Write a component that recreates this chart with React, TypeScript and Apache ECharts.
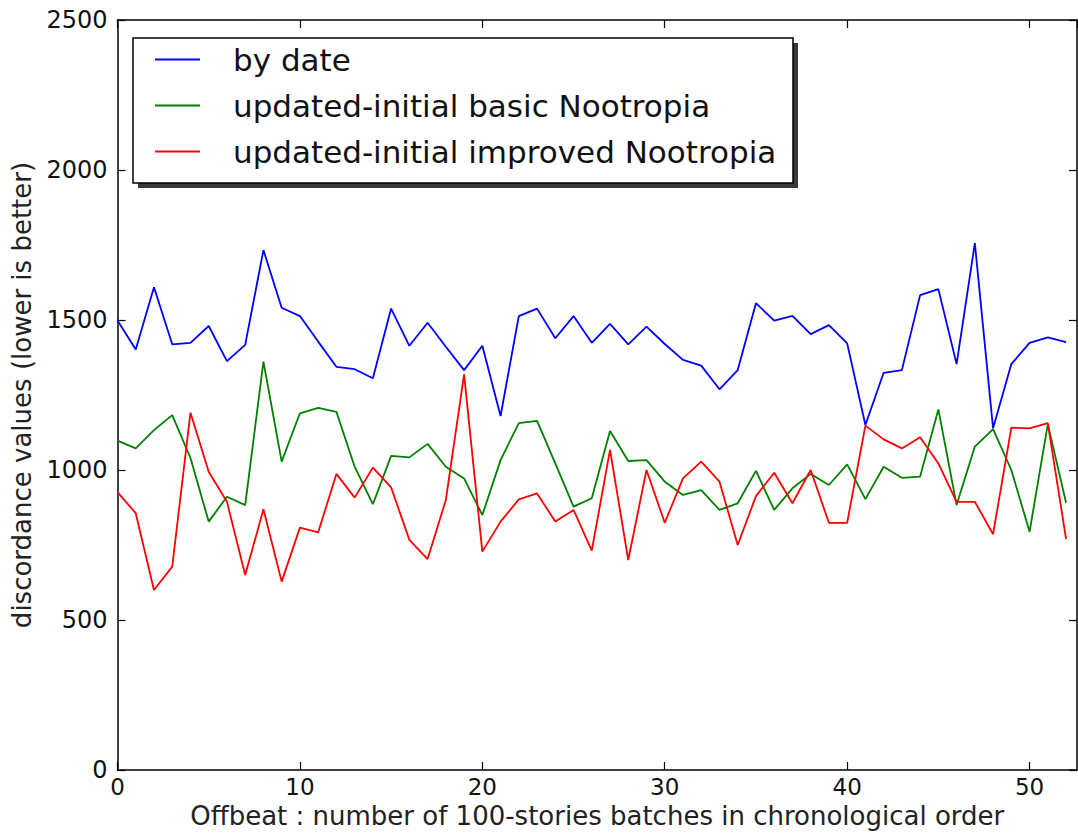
import React, { useEffect, useRef } from "react";
import * as echarts from "echarts";

const seriesNames = [
  "by date",
  "updated-initial basic Nootropia",
  "updated-initial improved Nootropia",
];

const byDate = [
  1498, 1402, 1609, 1419, 1424, 1480, 1363, 1417, 1733, 1541,
  1513, 1428, 1344, 1336, 1306, 1538, 1414, 1491, 1411, 1333,
  1414, 1180, 1513, 1538, 1439, 1513, 1424, 1487, 1419, 1478,
  1420, 1367, 1348, 1269, 1333, 1556, 1498, 1514, 1453, 1483,
  1422, 1150, 1324, 1333, 1583, 1603, 1353, 1756, 1139, 1353,
  1424, 1442, 1426,
];

const basicNootropia = [
  1098, 1072, 1133, 1183, 1040, 828, 911, 883, 1361, 1028,
  1189, 1207, 1194, 1011, 886, 1047, 1042, 1087, 1011, 972,
  850, 1033, 1156, 1164, 1022, 878, 906, 1130, 1030, 1033,
  961, 917, 933, 867, 889, 997, 867, 939, 987, 950,
  1019, 903, 1011, 974, 978, 1202, 883, 1078, 1136, 1000,
  794, 1153, 891,
];

const improvedNootropia = [
  926, 856, 600, 678, 1191, 994, 894, 650, 869, 628,
  808, 792, 987, 908, 1008, 942, 767, 703, 900, 1319,
  728, 828, 902, 922, 828, 867, 731, 1067, 700, 1000,
  824, 972, 1028, 961, 750, 913, 991, 889, 1000, 824,
  824, 1148, 1102, 1072, 1109, 1022, 894, 894, 786, 1141,
  1139, 1156, 770,
];

const colors = ["#0000ff", "#008000", "#ff0000"];
const allSeries = [byDate, basicNootropia, improvedNootropia];

const X_MIN = 0;
const X_MAX = 52.6;
const X_INTERVAL = 10;
const Y_MIN = 0;
const Y_MAX = 2500;
const Y_INTERVAL = 500;

export default function App() {
  const ref = useRef<HTMLDivElement>(null);

  useEffect(() => {
    if (!ref.current) return;
    const chart = echarts.init(ref.current, null, { renderer: "svg" });

    const axisLine = { show: true, onZero: false, lineStyle: { color: "#000", width: 1.5 } };
    const tick = { show: true, inside: true, length: 8, lineStyle: { color: "#000", width: 1.2 } };
    const font = "DejaVu Sans";

    const option: any = {
      animation: false,
      backgroundColor: "#fff",
      grid: { left: 117.5, right: 1, top: 20, bottom: 66, containLabel: false },
      xAxis: [
        {
          type: "value",
          position: "bottom",
          min: X_MIN,
          max: X_MAX,
          interval: X_INTERVAL,
          axisLine,
          axisTick: tick,
          splitLine: { show: false },
          axisLabel: {
            color: "#111",
            fontFamily: font,
            fontSize: 23,
            margin: 5,
            showMaxLabel: false,
            formatter: (v: number) => String(v),
          },
          name: "Offbeat : number of 100-stories batches in chronological order",
          nameLocation: "middle",
          nameGap: 27,
          nameTextStyle: { color: "#222", fontFamily: font, fontSize: 26 },
        },
        {
          type: "value",
          position: "top",
          min: X_MIN,
          max: X_MAX,
          interval: X_INTERVAL,
          axisLine,
          axisTick: tick,
          splitLine: { show: false },
          axisLabel: { show: false },
        },
      ],
      yAxis: [
        {
          type: "value",
          position: "left",
          min: Y_MIN,
          max: Y_MAX,
          interval: Y_INTERVAL,
          axisLine,
          axisTick: tick,
          splitLine: { show: false },
          axisLabel: {
            color: "#111",
            fontFamily: font,
            fontSize: 24,
            margin: 10,
            formatter: (v: number) => String(v),
          },
          name: "discordance values (lower is better)",
          nameLocation: "middle",
          nameGap: 83,
          nameTextStyle: { color: "#222", fontFamily: font, fontSize: 26 },
        },
        {
          type: "value",
          position: "right",
          min: Y_MIN,
          max: Y_MAX,
          interval: Y_INTERVAL,
          axisLine,
          axisTick: tick,
          splitLine: { show: false },
          axisLabel: { show: false },
        },
      ],
      legend: {
        show: true,
        orient: "vertical",
        left: 155,
        top: 44,
        itemWidth: 45,
        itemHeight: 2,
        itemGap: 15,
        icon: "rect",
        data: seriesNames,
        textStyle: {
          color: "#111",
          fontFamily: font,
          fontSize: 31,
          lineHeight: 30,
          padding: [0, 0, 0, 28],
        },
        padding: 0,
        z: 10,
      },
      graphic: [
        {
          type: "rect",
          shape: { x: 138, y: 43, width: 660, height: 145 },
          style: { fill: "#3a3a3a" },
          z: 5,
        },
        {
          type: "rect",
          shape: { x: 133, y: 38, width: 660, height: 145 },
          style: { fill: "#fff", stroke: "#000", lineWidth: 1.5 },
          z: 6,
        },
      ],
      series: allSeries.map((vals, k) => ({
        name: seriesNames[k],
        type: "line",
        xAxisIndex: 0,
        yAxisIndex: 0,
        data: vals.map((v, i) => [i, v]),
        showSymbol: false,
        symbol: "none",
        lineStyle: { color: colors[k], width: 1.8 },
        itemStyle: { color: colors[k] },
        z: 2,
      })),
    };

    chart.setOption(option);
    return () => chart.dispose();
  }, []);

  return (
    <div
      ref={ref}
      style={{ position: "fixed", left: 0, top: 0, width: 1078, height: 836 }}
    />
  );
}
